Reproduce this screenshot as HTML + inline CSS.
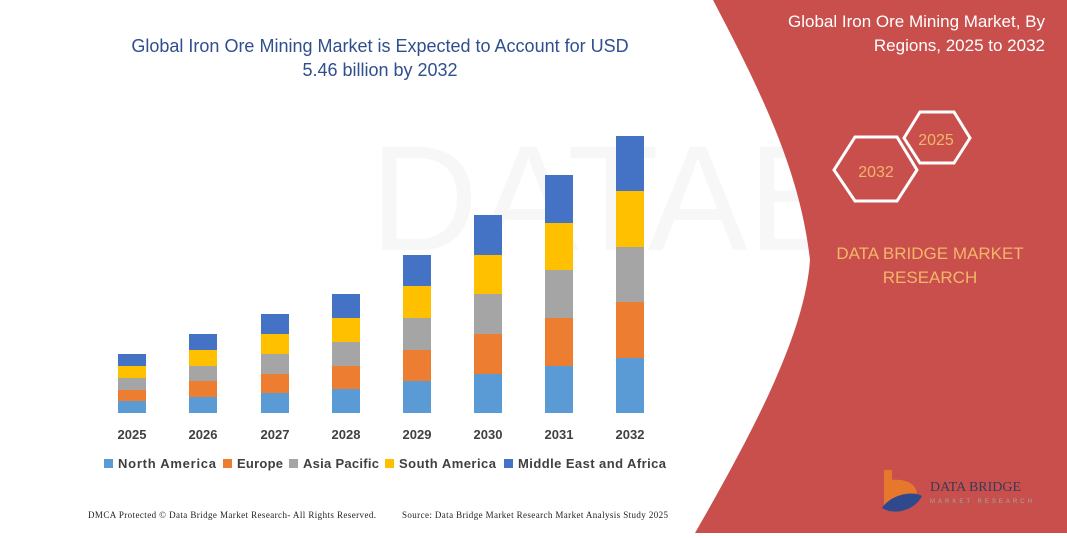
<!DOCTYPE html>
<html><head><meta charset="utf-8"><style>
body{margin:0;width:1067px;height:533px;overflow:hidden;background:#fff;font-family:"Liberation Sans",sans-serif}
</style></head><body>
<svg width="1067" height="533" viewBox="0 0 1067 533" xmlns="http://www.w3.org/2000/svg" font-family="Liberation Sans, sans-serif">
<rect width="1067" height="533" fill="#fff"/>
<text x="370" y="250" font-size="150" fill="#f7f7f7">DATABRIDGE</text>
<path d="M713,0 C760,90 800,170 810,260 C805,330 760,420 695,533 L1067,533 L1067,0 Z" fill="#c84f4c"/>
<text x="1045" y="27" font-size="17" fill="#fff" text-anchor="end">Global Iron Ore Mining Market, By</text>
<text x="1045" y="51" font-size="17" fill="#fff" text-anchor="end">Regions, 2025 to 2032</text>
<polygon points="855,137 897,137 917,170 897,201 855,201 834,170" fill="none" stroke="#fff" stroke-width="3"/>
<text x="876" y="177" font-size="16" fill="#f5b56a" text-anchor="middle">2032</text>
<polygon points="920,112 954,112 970,138 954,163 920,163 904,138" fill="none" stroke="#fff" stroke-width="3"/>
<text x="936" y="145" font-size="16" fill="#f5b56a" text-anchor="middle">2025</text>
<text x="930" y="259" font-size="17" fill="#f5b56a" text-anchor="middle">DATA BRIDGE MARKET</text>
<text x="930" y="283" font-size="17" fill="#f5b56a" text-anchor="middle">RESEARCH</text>
<path d="M884,470 L892,470 L892,480 C912,478 922,490 914,502 C905,512 890,512 884,505 Z" fill="#e8772e"/>
<path d="M882,508 C890,495 912,490 922,496 C915,510 895,516 882,508 Z" fill="#2e4a8c"/>
<text x="930" y="491" font-size="14" fill="#3a3a5a" font-family="Liberation Serif, serif">DATA BRIDGE</text>
<text x="930" y="503" font-size="6" fill="#9aa" letter-spacing="3">MARKET RESEARCH</text>

<text x="380" y="52" font-size="18" fill="#2f4f8f" text-anchor="middle">Global Iron Ore Mining Market is Expected to Account for USD</text>
<text x="380" y="76" font-size="18" fill="#2f4f8f" text-anchor="middle">5.46 billion by 2032</text>
<g>
<rect x="118" y="401" width="28" height="12" fill="#5b9bd5"/><rect x="118" y="390" width="28" height="11" fill="#ed7d31"/><rect x="118" y="378" width="28" height="12" fill="#a5a5a5"/><rect x="118" y="366" width="28" height="12" fill="#ffc000"/><rect x="118" y="354" width="28" height="12" fill="#4472c4"/>
<rect x="189" y="397" width="28" height="16" fill="#5b9bd5"/><rect x="189" y="381" width="28" height="16" fill="#ed7d31"/><rect x="189" y="366" width="28" height="15" fill="#a5a5a5"/><rect x="189" y="350" width="28" height="16" fill="#ffc000"/><rect x="189" y="334" width="28" height="16" fill="#4472c4"/>
<rect x="261" y="393" width="28" height="20" fill="#5b9bd5"/><rect x="261" y="374" width="28" height="19" fill="#ed7d31"/><rect x="261" y="354" width="28" height="20" fill="#a5a5a5"/><rect x="261" y="334" width="28" height="20" fill="#ffc000"/><rect x="261" y="314" width="28" height="20" fill="#4472c4"/>
<rect x="332" y="389" width="28" height="24" fill="#5b9bd5"/><rect x="332" y="366" width="28" height="23" fill="#ed7d31"/><rect x="332" y="342" width="28" height="24" fill="#a5a5a5"/><rect x="332" y="318" width="28" height="24" fill="#ffc000"/><rect x="332" y="294" width="28" height="24" fill="#4472c4"/>
<rect x="403" y="381" width="28" height="32" fill="#5b9bd5"/><rect x="403" y="350" width="28" height="31" fill="#ed7d31"/><rect x="403" y="318" width="28" height="32" fill="#a5a5a5"/><rect x="403" y="286" width="28" height="32" fill="#ffc000"/><rect x="403" y="255" width="28" height="31" fill="#4472c4"/>
<rect x="474" y="374" width="28" height="39" fill="#5b9bd5"/><rect x="474" y="334" width="28" height="40" fill="#ed7d31"/><rect x="474" y="294" width="28" height="40" fill="#a5a5a5"/><rect x="474" y="255" width="28" height="39" fill="#ffc000"/><rect x="474" y="215" width="28" height="40" fill="#4472c4"/>
<rect x="545" y="366" width="28" height="47" fill="#5b9bd5"/><rect x="545" y="318" width="28" height="48" fill="#ed7d31"/><rect x="545" y="270" width="28" height="48" fill="#a5a5a5"/><rect x="545" y="223" width="28" height="47" fill="#ffc000"/><rect x="545" y="175" width="28" height="48" fill="#4472c4"/>
<rect x="616" y="358" width="28" height="55" fill="#5b9bd5"/><rect x="616" y="302" width="28" height="56" fill="#ed7d31"/><rect x="616" y="247" width="28" height="55" fill="#a5a5a5"/><rect x="616" y="191" width="28" height="56" fill="#ffc000"/><rect x="616" y="136" width="28" height="55" fill="#4472c4"/>
</g>
<g font-size="13" font-weight="bold" fill="#404040" text-anchor="middle">
<text x="132" y="439">2025</text><text x="203" y="439">2026</text><text x="275" y="439">2027</text><text x="346" y="439">2028</text><text x="417" y="439">2029</text><text x="488" y="439">2030</text><text x="559" y="439">2031</text><text x="630" y="439">2032</text>
</g>
<g font-size="13" font-weight="bold" fill="#404040">
<rect x="104" y="459" width="9" height="9" fill="#5b9bd5"/><text x="118" y="468" textLength="98">North America</text>
<rect x="223" y="459" width="9" height="9" fill="#ed7d31"/><text x="237" y="468" textLength="46">Europe</text>
<rect x="289" y="459" width="9" height="9" fill="#a5a5a5"/><text x="303" y="468" textLength="76">Asia Pacific</text>
<rect x="385" y="459" width="9" height="9" fill="#ffc000"/><text x="399" y="468" textLength="97">South America</text>
<rect x="504" y="459" width="9" height="9" fill="#4472c4"/><text x="518" y="468" textLength="148">Middle East and Africa</text>
</g>
<text x="88" y="518" font-size="9" fill="#222" font-family="Liberation Serif, serif" textLength="288">DMCA Protected © Data Bridge Market Research-  All Rights Reserved.</text>
<text x="402" y="518" font-size="9" fill="#222" font-family="Liberation Serif, serif" textLength="266">Source: Data Bridge Market Research  Market Analysis Study 2025</text>
</svg>
</body></html>
